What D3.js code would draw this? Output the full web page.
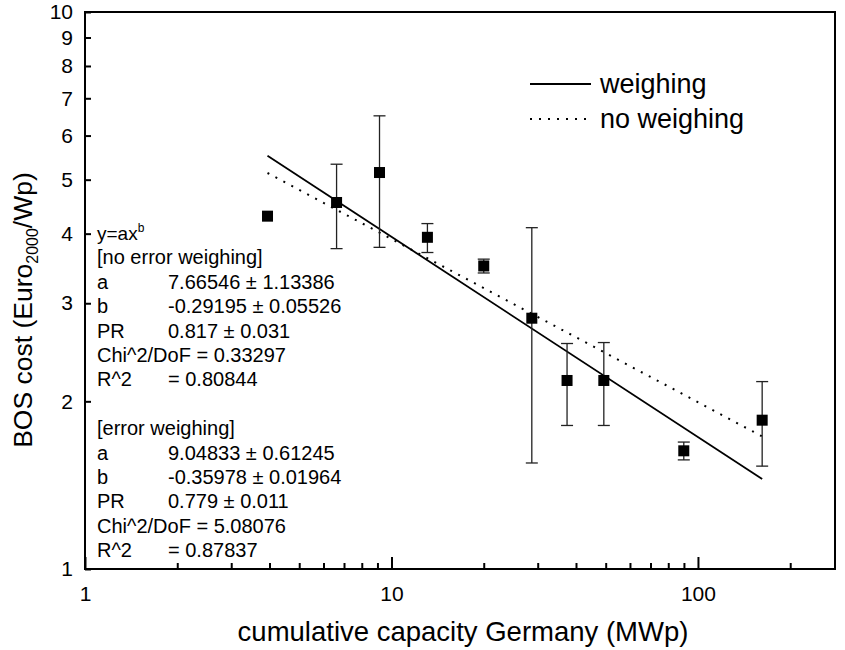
<!DOCTYPE html>
<html>
<head>
<meta charset="utf-8">
<script src="https://cdn.jsdelivr.net/npm/d3@7"></script>
<style>
  body { margin: 0; background: #fff; }
  text { font-family: "Liberation Sans", Arial, Helvetica, sans-serif; fill: #000; }
</style>
</head>
<body>
<svg id="chart" width="845" height="650"></svg>
<script>
// values
const capacity = [3.94, 6.62, 9.14, 13.1, 20.0, 28.7, 37.4, 49.3, 89.9, 162];
const bosCost  = [4.30, 4.55, 5.15, 3.94, 3.50, 2.82, 2.18, 2.18, 1.63, 1.85];
const errHigh  = [null, 5.33, 6.51, 4.17, 3.60, 4.10, 2.54, 2.55, 1.69, 2.17];
const errLow   = [null, 3.76, 3.78, 3.70, 3.40, 1.55, 1.81, 1.81, 1.57, 1.53];

// end points of the two fitted lines
const fitX          = [3.94, 162];
const fitWeighing   = [5.52, 1.45];
const fitNoWeighing = [5.14, 1.73];

const xMajor = [1, 10, 100];
const xMinor = [2, 3, 4, 5, 6, 7, 8, 9, 20, 30, 40, 50, 60, 70, 80, 90, 200];
const yTicks = [1, 2, 3, 4, 5, 6, 7, 8, 9, 10];

const legendLabels = ["weighing", "no weighing"];

const noWeighText = [
    ["[no error weighing]", ""],
    ["a", "7.66546 \u00b1 1.13386"],
    ["b", "-0.29195 \u00b1 0.05526"],
    ["PR", "0.817 \u00b1 0.031"],
    ["Chi^2/DoF = 0.33297", ""],
    ["R^2", "= 0.80844"]
];
const weighText = [
    ["[error weighing]", ""],
    ["a", "9.04833 \u00b1 0.61245"],
    ["b", "-0.35978 \u00b1 0.01964"],
    ["PR", "0.779 \u00b1 0.011"],
    ["Chi^2/DoF = 5.08076", ""],
    ["R^2", "= 0.87837"]
];

// plot area
var margin = { top: 12, right: 10, bottom: 81, left: 85 },
    width = 845 - margin.left - margin.right,
    height = 650 - margin.top - margin.bottom;

const svg = d3.select("#chart");
const g = svg.append("g")
    .attr("transform", "translate(" + margin.left + "," + margin.top + ")");

var x = d3.scaleLog().domain([1, 280]).range([0, width]);
var y = d3.scaleLog().domain([1, 10]).range([height, 0]);

// minor ticks on x, inward
g.append("g")
    .attr("transform", `translate(0,${height})`)
    .call(d3.axisBottom(x).tickValues(xMinor).tickSize(-6).tickFormat(""))
    .call(a => a.select(".domain").remove())
    .selectAll("line").attr("stroke-width", 2);

// major ticks + labels on x
g.append("g")
    .attr("transform", `translate(0,${height})`)
    .call(d3.axisBottom(x).tickValues(xMajor).tickSize(-12).tickPadding(17).tickFormat(d3.format("d")))
    .call(a => a.select(".domain").remove())
    .call(a => a.selectAll("line").attr("stroke-width", 2))
    .selectAll("text")
    .style("font-size", "21px")
    .style("font-family", "Liberation Sans, Arial, sans-serif");

// y ticks + labels
g.append("g")
    .call(d3.axisLeft(y).tickValues(yTicks).tickSize(-6).tickPadding(12).tickFormat(d3.format("d")))
    .call(a => a.select(".domain").remove())
    .call(a => a.selectAll("line").attr("stroke-width", 2))
    .selectAll("text")
    .style("font-size", "21px")
    .style("font-family", "Liberation Sans, Arial, sans-serif");

// frame
g.append("rect")
    .attr("width", width)
    .attr("height", height)
    .attr("fill", "none")
    .attr("stroke", "#000")
    .attr("stroke-width", 2);

// fit lines
g.append("line")
    .attr("x1", x(fitX[0])).attr("y1", y(fitWeighing[0]))
    .attr("x2", x(fitX[1])).attr("y2", y(fitWeighing[1]))
    .attr("stroke", "#000").attr("stroke-width", 1.8);

g.append("line")
    .attr("x1", x(fitX[0])).attr("y1", y(fitNoWeighing[0]))
    .attr("x2", x(fitX[1])).attr("y2", y(fitNoWeighing[1]))
    .attr("stroke", "#000").attr("stroke-width", 2)
    .attr("stroke-dasharray", "2,7");

// error bars
const pts = capacity.map((c, i) => ({ x: c, y: bosCost[i], hi: errHigh[i], lo: errLow[i] }));
const withErr = pts.filter(d => d.hi != null);

g.selectAll("line.err")
    .data(withErr)
    .join("line")
    .attr("class", "err")
    .attr("x1", d => x(d.x)).attr("x2", d => x(d.x))
    .attr("y1", d => y(d.hi)).attr("y2", d => y(d.lo))
    .attr("stroke", "#222").attr("stroke-width", 1.3);

["hi", "lo"].forEach(k => {
    g.selectAll("line.cap-" + k)
        .data(withErr)
        .join("line")
        .attr("class", "cap-" + k)
        .attr("x1", d => x(d.x) - 6).attr("x2", d => x(d.x) + 6)
        .attr("y1", d => y(d[k])).attr("y2", d => y(d[k]))
        .attr("stroke", "#222").attr("stroke-width", 1.3);
});

// square markers
g.selectAll("rect.pt")
    .data(pts)
    .join("rect")
    .attr("class", "pt")
    .attr("x", d => x(d.x) - 5.5)
    .attr("y", d => y(d.y) - 5.5)
    .attr("width", 11)
    .attr("height", 11)
    .attr("fill", "#000");

// legend
const legend = svg.append("g");
legendLabels.forEach((lab, i) => {
    const ly = 84 + i * 35;
    legend.append("line")
        .attr("x1", 530).attr("x2", 591)
        .attr("y1", ly).attr("y2", ly)
        .attr("stroke", "#000")
        .attr("stroke-width", i == 0 ? 1.8 : 2)
        .attr("stroke-dasharray", i == 0 ? null : "2,7");
    legend.append("text")
        .attr("x", 600).attr("y", ly + 9)
        .style("font-size", "27px")
        .text(lab);
});

// fit results text
const notes = svg.append("g").style("font-size", "20px");
const lineH = 24.4, top0 = 240;

const yx = notes.append("text").attr("x", 97).attr("y", top0).style("font-size", "19px");
yx.append("tspan").text("y=ax");
yx.append("tspan").attr("dy", -8).style("font-size", "12px").text("b");

function drawBlock(rows, start) {
    rows.forEach((r, i) => {
        const ty = top0 + (start + i) * lineH;
        notes.append("text").attr("x", 97).attr("y", ty).text(r[0]);
        if (r[1]) notes.append("text").attr("x", 168).attr("y", ty).text(r[1]);
    });
}
drawBlock(noWeighText, 1);
drawBlock(weighText, 8);

// axis titles
svg.append("text")
    .attr("x", margin.left + width / 2 + 3)
    .attr("y", 641)
    .attr("text-anchor", "middle")
    .style("font-size", "27.5px")
    .text("cumulative capacity Germany (MWp)");

const yt = svg.append("text")
    .attr("transform", "translate(32,310) rotate(-90)")
    .attr("text-anchor", "middle")
    .style("font-size", "26.5px");
yt.append("tspan").text("BOS cost (Euro");
yt.append("tspan").attr("dy", 6).style("font-size", "16px").text("2000");
yt.append("tspan").attr("dy", -6).text("/Wp)");
</script>
</body>
</html>
